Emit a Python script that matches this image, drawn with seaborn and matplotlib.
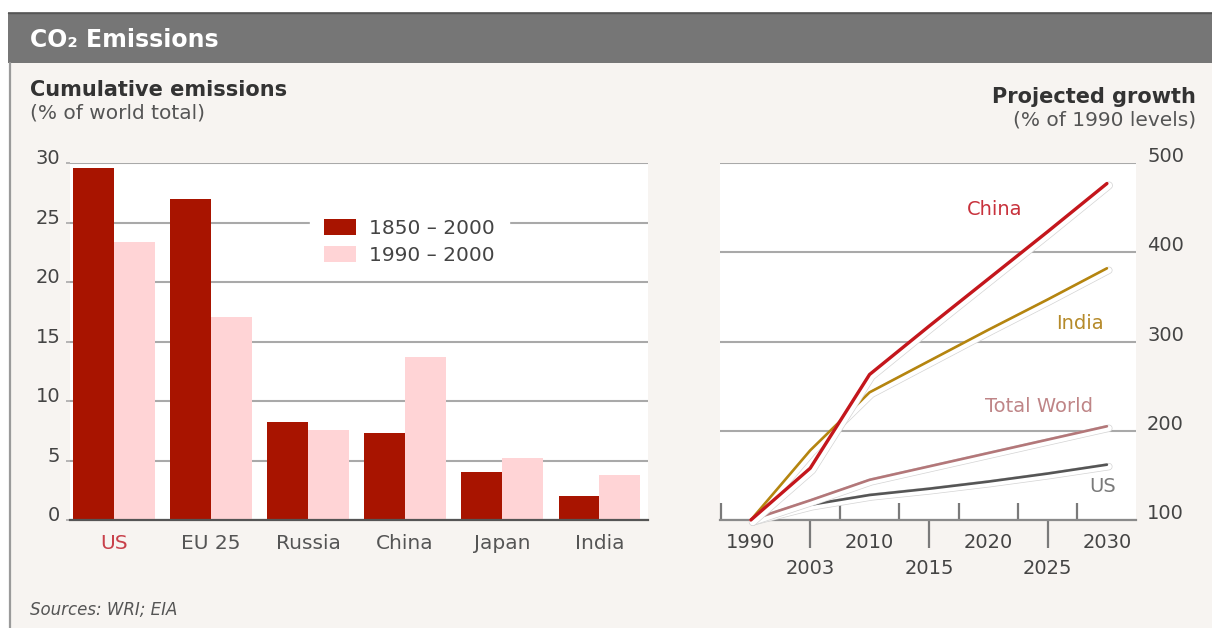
import matplotlib
matplotlib.use("Agg")
import matplotlib.pyplot as plt
import matplotlib.patheffects as pe
from matplotlib.transforms import ScaledTranslation
from matplotlib.patches import Rectangle
from matplotlib.lines import Line2D
import numpy as np
import pandas as pd
import seaborn as sns

# ---- data -----------------------------------------------------------------
countries = ["US", "EU 25", "Russia", "China", "Japan", "India"]
share_1850_2000 = [29.6, 27.0, 8.2, 7.3, 4.0, 2.0]
share_1990_2000 = [23.4, 17.1, 7.6, 13.7, 5.2, 3.8]
period_labels = ["1850 – 2000", "1990 – 2000"]
share_ticks = [0, 5, 10, 15, 20, 25, 30]

years = [1990, 2003, 2010, 2015, 2020, 2025, 2030]
growth_china = [100, 158, 263, 317, 370, 423, 477]
growth_india = [100, 178, 243, 278, 313, 347, 382]
growth_world = [100, 122, 145, 160, 175, 190, 205]
growth_us = [100, 117, 128, 135, 143, 152, 162]
growth_ticks = [100, 200, 300, 400, 500]

# ---- style ----------------------------------------------------------------
sns.set_style("white")
plt.rcParams["font.family"] = ["DejaVu Sans"]

W, H = 1212, 628
fig = plt.figure(figsize=(W / 100, H / 100), dpi=100)
fig.patch.set_facecolor("white")


def fx(x):
    return x / W


def fy(y):
    return 1 - y / H


PANEL = "#f7f4f1"
GRID = "#a9a9a9"
TXT = "#444444"

# panel, title band and border
fig.add_artist(Rectangle((fx(10), 0), 1, fy(12), transform=fig.transFigure,
                         facecolor=PANEL, edgecolor="none", zorder=-10))
fig.add_artist(Rectangle((fx(8), fy(63)), 1, 51 / H, transform=fig.transFigure,
                         facecolor="#767676", edgecolor="none", zorder=-9))
fig.add_artist(Line2D([fx(8), 1], [fy(12.5), fy(12.5)], transform=fig.transFigure,
                      color="#555555", lw=1.0, zorder=-8))
fig.add_artist(Line2D([fx(10), fx(10)], [0, fy(63)], transform=fig.transFigure,
                      color="#9a9a9a", lw=1.6, zorder=-8))

fig.text(fx(30), fy(40), "CO₂ Emissions", color="white", fontsize=17,
         fontweight="bold", va="center", ha="left")
fig.text(fx(30), fy(90), "Cumulative emissions", color="#333333", fontsize=15,
         fontweight="bold", va="center", ha="left")
fig.text(fx(30), fy(113), "(% of world total)", color="#555555", fontsize=14.5,
         va="center", ha="left")
fig.text(fx(1196), fy(97), "Projected growth", color="#333333", fontsize=15,
         fontweight="bold", va="center", ha="right")
fig.text(fx(1196), fy(120), "(% of 1990 levels)", color="#555555", fontsize=14.5,
         va="center", ha="right")
fig.text(fx(30), fy(610), "Sources: WRI; EIA", color="#555555", fontsize=12,
         style="italic", va="center", ha="left")

raise_labels = ScaledTranslation(0, 4.5 / 72, fig.dpi_scale_trans)

# ---- cumulative emissions bars -------------------------------------------
ax1 = fig.add_axes([fx(70), fy(520), (648 - 70) / W, (520 - 163) / H])
ax1.set_facecolor("white")

bars = pd.DataFrame({
    "country": countries * 2,
    "share": share_1850_2000 + share_1990_2000,
    "period": [period_labels[0]] * len(countries) + [period_labels[1]] * len(countries),
})
sns.barplot(data=bars, x="country", y="share", hue="period",
            palette=["#a81400", "#ffd4d6"], saturation=1, width=0.84,
            linewidth=0, ax=ax1, zorder=2)

ax1.set_xlim(-0.45, 5.5)
ax1.set_ylim(0, 30)
ax1.set_yticks(share_ticks)
ax1.set_yticklabels([str(t) for t in share_ticks])
ax1.grid(axis="y", color=GRID, lw=1.5)
ax1.set_axisbelow(True)
for side in ("top", "right", "left"):
    ax1.spines[side].set_visible(False)
ax1.spines["bottom"].set_color("#555555")
ax1.spines["bottom"].set_linewidth(1.6)
ax1.set_xlabel("")
ax1.set_ylabel("")
ax1.tick_params(axis="y", left=True, length=3, width=1.2, color=GRID, pad=4,
                labelsize=14, labelcolor=TXT)
ax1.tick_params(axis="x", length=0, pad=10, labelsize=14.5, labelcolor="#555555")
for lab in ax1.get_yticklabels():
    lab.set_transform(lab.get_transform() + raise_labels)
ax1.get_xticklabels()[0].set_color("#c8404a")

old = ax1.get_legend()
handles = old.legend_handles
labels = [t.get_text() for t in old.get_texts()]
leg = ax1.legend(handles, labels, loc="upper left",
                 bbox_to_anchor=(fx(300), fy(195)), bbox_transform=fig.transFigure,
                 frameon=True, facecolor="white", edgecolor="white", framealpha=1,
                 fancybox=False, fontsize=14.5, handlelength=1.6, handleheight=0.85,
                 handletextpad=0.65, labelspacing=0.4, borderpad=0.7)
for t in leg.get_texts():
    t.set_color(TXT)

# ---- projected growth lines ----------------------------------------------
ax2 = fig.add_axes([fx(720), fy(520), (1136 - 720) / W, (520 - 163) / H])
ax2.set_facecolor("white")
slots = np.arange(len(years))


def halo(lw):
    return [pe.Stroke(offset=(1.4, -1.4), linewidth=lw + 3.4, foreground="#d4d4d4"),
            pe.Stroke(offset=(1.4, -1.4), linewidth=lw + 2.4, foreground="white"),
            pe.Normal()]


series = [
    ("US", growth_us, "#555555", 1.9),
    ("Total World", growth_world, "#b37779", 1.9),
    ("India", growth_india, "#b5850f", 1.9),
    ("China", growth_china, "#c4161c", 2.4),
]
for name, vals, color, lw in series:
    sns.lineplot(x=slots, y=vals, ax=ax2, color=color, linewidth=lw,
                 clip_on=False, path_effects=halo(lw), zorder=3)

ax2.set_xlim(-0.52, 6.49)
ax2.set_ylim(100, 500)
ax2.yaxis.tick_right()
ax2.set_yticks(growth_ticks)
ax2.set_yticklabels([str(t) for t in growth_ticks])
ax2.tick_params(axis="y", length=0, pad=8, labelsize=14, labelcolor=TXT)
for lab in ax2.get_yticklabels():
    lab.set_transform(lab.get_transform() + ScaledTranslation(0, 6 / 72, fig.dpi_scale_trans))
ax2.grid(axis="y", color=GRID, lw=1.5)
ax2.set_axisbelow(True)
for side in ("top", "right", "left"):
    ax2.spines[side].set_visible(False)
ax2.spines["bottom"].set_color("#8a8a8a")
ax2.spines["bottom"].set_linewidth(1.6)

major = [0, 2, 4, 6]
minor = [1, 3, 5]
ax2.set_xticks(major)
ax2.set_xticklabels([str(years[i]) for i in major])
ax2.set_xticks(minor, minor=True)
ax2.set_xticklabels([str(years[i]) for i in minor], minor=True)
ax2.tick_params(axis="x", which="major", bottom=True, length=0, pad=9,
                labelsize=14, labelcolor=TXT)
ax2.tick_params(axis="x", which="minor", bottom=True, direction="out", length=20,
                width=1.6, color="#7a7a7a", pad=8, labelsize=14, labelcolor=TXT)
ax2.vlines([-0.5, 1.5, 2.5, 3.5, 4.5, 5.5], 0, 0.048,
           transform=ax2.get_xaxis_transform(), color="#7a7a7a", lw=1.6,
           clip_on=False, zorder=2)
ax2.set_xlabel("")
ax2.set_ylabel("")

label_pos = {
    "China": (4.1, 448, "#c8323c"),
    "India": (5.54, 320, "#b58a2a"),
    "Total World": (4.86, 227, "#bf8587"),
    "US": (5.93, 137, "#7a7a7a"),
}
for name, (x, y, c) in label_pos.items():
    ax2.text(x, y, name, color=c, fontsize=14, ha="center", va="center", zorder=4)

fig.savefig("out.png", dpi=100, facecolor=fig.get_facecolor())
